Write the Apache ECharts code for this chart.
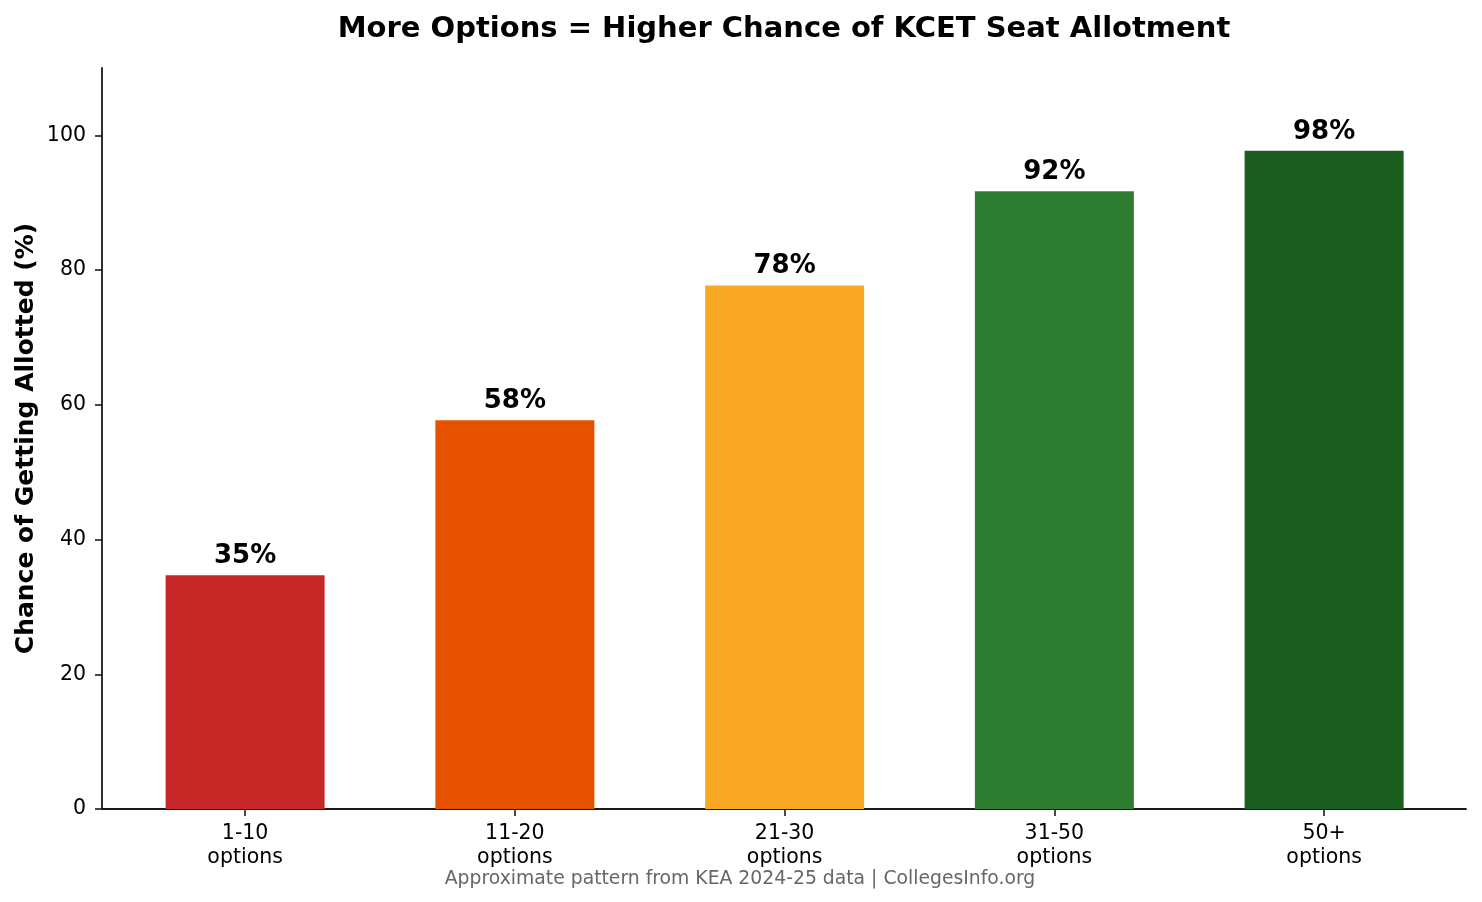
<!DOCTYPE html>
<html>
<head>
<meta charset="utf-8">
<title>KCET Seat Allotment</title>
<script src="https://cdn.jsdelivr.net/npm/echarts@6/dist/echarts.min.js"></script>
<style>
  html, body { margin: 0; padding: 0; background: #fff; }
  #chart { width: 1482px; height: 902px; }
</style>
</head>
<body>
<div id="chart"></div>
<script>
// data
const categories = ["1-10\noptions", "11-20\noptions", "21-30\noptions", "31-50\noptions", "50+\noptions"];
const chance = [34.7, 57.7, 77.7, 91.7, 97.7];
const barColors = ["#C62828", "#E65100", "#F9A825", "#2E7D32", "#1B5E20"];
const yTicks = { min: 0, max: 110, interval: 20 };

const font = "DejaVu Sans";
const axisColor = "#1a1a1a";

const chart = echarts.init(document.getElementById("chart"));

chart.setOption({
  animation: false,
  backgroundColor: "#fff",
  textStyle: { fontFamily: font },
  graphic: [
    {
      type: "text",
      x: 784, y: 29,
      style: {
        text: "More Options = Higher Chance of KCET Seat Allotment",
        font: "bold 29px 'DejaVu Sans'",
        fill: "#000",
        textAlign: "center",
        textVerticalAlign: "middle"
      }
    },
    {
      type: "text",
      x: 740, y: 879,
      style: {
        text: "Approximate pattern from KEA 2024-25 data | CollegesInfo.org",
        font: "18.8px 'DejaVu Sans'",
        fill: "#666",
        textAlign: "center",
        textVerticalAlign: "middle"
      }
    }
  ],
  grid: [
    // frame grid: full plot area, carries the spines and y ticks
    { left: 102, top: 68, width: 1364, height: 741 },
    // bar grid: categories placed like matplotlib's bar positions
    { left: 110.25, top: 68, width: 1079 + 269.75, height: 741 }
  ],
  xAxis: [
    {
      gridIndex: 0,
      type: "value",
      min: 0, max: 1,
      axisLine: { show: true, lineStyle: { color: axisColor, width: 1.8 } },
      axisTick: { show: false },
      axisLabel: { show: false },
      splitLine: { show: false }
    },
    {
      gridIndex: 1,
      type: "category",
      data: categories,
      axisLine: { show: false },
      axisTick: { show: true, alignWithLabel: true, length: 7, lineStyle: { color: axisColor, width: 1.6 } },
      axisLabel: { color: "#000", fontSize: 20.5, lineHeight: 24, margin: 13, fontFamily: font }
    }
  ],
  yAxis: [
    {
      gridIndex: 0,
      type: "value",
      min: yTicks.min, max: yTicks.max, interval: yTicks.interval,
      name: "Chance of Getting Allotted (%)",
      nameLocation: "middle",
      nameRotate: 90,
      nameGap: 63,
      nameMoveOverlap: false,
      nameTextStyle: { fontSize: 25, fontWeight: "bold", color: "#000", fontFamily: font },
      axisLine: { show: true, lineStyle: { color: axisColor, width: 1.8 } },
      axisTick: { show: true, length: 7, lineStyle: { color: axisColor, width: 1.6 } },
      axisLabel: {
        color: "#000", fontSize: 20.5, margin: 16, fontFamily: font,
        showMaxLabel: false
      },
      splitLine: { show: false }
    },
    {
      gridIndex: 1,
      type: "value",
      min: yTicks.min, max: yTicks.max, interval: yTicks.interval,
      show: false
    }
  ],
  series: [
    {
      type: "bar",
      xAxisIndex: 1,
      yAxisIndex: 1,
      barWidth: 159,
      data: chance.map((v, i) => ({ value: v, itemStyle: { color: barColors[i] } })),
      label: {
        show: true,
        position: "top",
        distance: 6,
        formatter: (p) => Math.round(p.value) + "%",
        fontSize: 26,
        fontWeight: "bold",
        color: "#000",
        fontFamily: font
      }
    }
  ]
});
</script>
</body>
</html>
